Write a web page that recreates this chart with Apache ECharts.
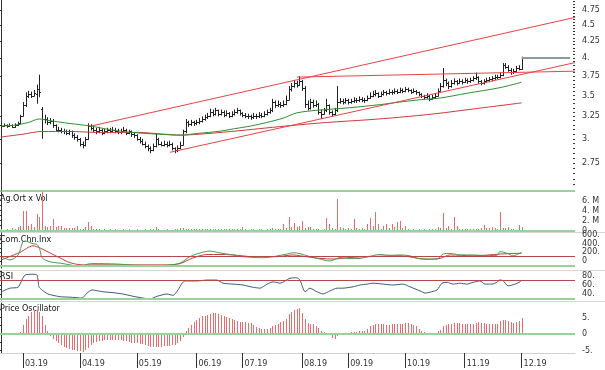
<!DOCTYPE html>
<html><head><meta charset="utf-8">
<script src="https://cdn.jsdelivr.net/npm/echarts@6/dist/echarts.min.js"></script>
<style>html,body{margin:0;padding:0;background:#fff}#c{width:605px;height:370px}</style>
</head><body><div id="c"></div>
<script>
// ---------- DATA ----------
const monthLabels = ['03.19','04.19','05.19','06.19','07.19','08.19','09.19','10.19','11.19','12.19'];
const monthStartIdx = [8,29,50,72,89,111,128,149,171,192];

const openP = [
3.15,3.14,3.15,3.14,3.15,3.13,3.15,3.17,3.26,3.38,
3.50,3.52,3.50,3.52,3.58,3.34,3.22,3.22,3.18,3.20,
3.15,3.10,3.10,3.08,3.08,3.06,3.08,3.04,3.02,3.00,
2.95,2.93,3.00,3.14,3.12,3.10,3.08,3.10,3.06,3.08,
3.10,3.08,3.10,3.09,3.07,3.08,3.10,3.06,3.08,3.05,
3.04,3.00,2.98,2.95,2.92,2.90,2.88,2.92,3.00,2.95,
2.94,2.95,2.94,2.95,2.90,2.88,2.90,2.94,3.08,3.18,
3.16,3.18,3.17,3.18,3.20,3.22,3.24,3.26,3.30,3.28,
3.32,3.28,3.30,3.27,3.29,3.26,3.28,3.30,3.32,3.29,
3.27,3.26,3.25,3.24,3.26,3.25,3.27,3.26,3.28,3.30,
3.32,3.42,3.38,3.40,3.38,3.40,3.45,3.58,3.62,3.66,
3.64,3.68,3.60,3.40,3.35,3.42,3.38,3.40,3.30,3.28,
3.32,3.38,3.30,3.28,3.32,3.42,3.43,3.42,3.44,3.42,
3.43,3.45,3.44,3.46,3.45,3.44,3.47,3.50,3.52,3.53,
3.50,3.52,3.54,3.53,3.55,3.54,3.56,3.55,3.57,3.56,
3.58,3.57,3.55,3.56,3.54,3.52,3.50,3.48,3.50,3.46,
3.48,3.50,3.56,3.62,3.70,3.66,3.62,3.66,3.68,3.66,
3.69,3.67,3.70,3.68,3.70,3.72,3.74,3.68,3.66,3.68,
3.70,3.71,3.72,3.74,3.74,3.76,3.90,3.88,3.84,3.80,
3.82,3.86,3.85];
const highP = [
3.17,3.17,3.16,3.17,3.16,3.17,3.19,3.27,3.42,3.54,
3.56,3.55,3.57,3.64,3.77,3.36,3.27,3.24,3.23,3.22,
3.16,3.13,3.12,3.11,3.10,3.10,3.09,3.06,3.04,3.01,
2.97,3.02,3.17,3.16,3.14,3.12,3.13,3.11,3.11,3.12,
3.12,3.13,3.12,3.11,3.11,3.13,3.11,3.10,3.09,3.07,
3.05,3.02,3.00,2.97,2.94,2.92,2.95,3.06,3.01,2.97,
2.98,2.97,2.98,2.96,2.91,2.93,2.97,3.10,3.22,3.20,
3.21,3.20,3.21,3.23,3.25,3.27,3.29,3.34,3.33,3.35,
3.33,3.33,3.32,3.32,3.30,3.31,3.33,3.35,3.33,3.30,
3.29,3.28,3.27,3.29,3.28,3.30,3.29,3.31,3.33,3.35,
3.46,3.44,3.44,3.42,3.44,3.50,3.62,3.66,3.70,3.69,
3.75,3.70,3.62,3.44,3.46,3.45,3.44,3.41,3.33,3.35,
3.46,3.39,3.32,3.35,3.62,3.47,3.46,3.47,3.46,3.46,
3.48,3.47,3.49,3.48,3.47,3.50,3.54,3.56,3.57,3.54,
3.55,3.57,3.56,3.58,3.57,3.59,3.58,3.60,3.59,3.61,
3.60,3.58,3.59,3.57,3.55,3.53,3.51,3.53,3.51,3.51,
3.53,3.59,3.66,3.86,3.72,3.68,3.70,3.72,3.70,3.72,
3.71,3.73,3.72,3.73,3.75,3.80,3.75,3.70,3.71,3.73,
3.74,3.75,3.77,3.77,3.80,3.93,3.93,3.90,3.86,3.85,
3.89,3.90,4.02];
const lowP = [
3.12,3.13,3.12,3.13,3.12,3.12,3.14,3.16,3.25,3.36,
3.47,3.47,3.49,3.40,3.48,3.00,3.17,3.15,3.16,3.12,
3.08,3.07,3.06,3.05,3.04,3.04,3.01,2.99,2.97,2.92,
2.90,2.92,2.99,3.09,3.07,3.05,3.06,3.04,3.05,3.06,
3.06,3.07,3.06,3.05,3.05,3.07,3.04,3.05,3.02,3.01,
2.98,2.95,2.93,2.90,2.87,2.85,2.87,2.91,2.93,2.92,
2.92,2.91,2.92,2.88,2.85,2.86,2.89,2.93,3.06,3.13,
3.14,3.14,3.15,3.16,3.18,3.20,3.22,3.24,3.25,3.26,
3.25,3.26,3.24,3.25,3.23,3.24,3.26,3.28,3.26,3.24,
3.23,3.22,3.21,3.22,3.22,3.23,3.23,3.24,3.26,3.28,
3.30,3.35,3.36,3.35,3.36,3.38,3.44,3.55,3.60,3.60,
3.62,3.56,3.35,3.32,3.33,3.35,3.36,3.27,3.22,3.27,
3.30,3.27,3.25,3.26,3.30,3.40,3.39,3.40,3.39,3.40,
3.41,3.41,3.42,3.42,3.41,3.43,3.46,3.48,3.49,3.47,
3.48,3.50,3.50,3.51,3.51,3.52,3.52,3.53,3.53,3.54,
3.54,3.52,3.53,3.51,3.49,3.47,3.45,3.46,3.43,3.45,
3.46,3.49,3.55,3.60,3.62,3.58,3.60,3.64,3.63,3.65,
3.64,3.66,3.65,3.66,3.68,3.70,3.65,3.63,3.64,3.66,
3.67,3.68,3.70,3.71,3.72,3.75,3.85,3.81,3.77,3.78,
3.81,3.83,3.84];
const closeP = [
3.14,3.15,3.14,3.15,3.13,3.15,3.16,3.25,3.38,3.50,
3.52,3.50,3.53,3.58,3.55,3.22,3.22,3.18,3.20,3.15,
3.10,3.10,3.08,3.08,3.06,3.08,3.04,3.02,3.00,2.95,
2.93,3.00,3.14,3.12,3.10,3.08,3.10,3.06,3.08,3.10,
3.08,3.10,3.09,3.07,3.08,3.10,3.06,3.08,3.05,3.04,
3.00,2.98,2.95,2.92,2.90,2.88,2.92,3.00,2.95,2.94,
2.95,2.94,2.95,2.90,2.88,2.90,2.94,3.08,3.18,3.16,
3.18,3.17,3.18,3.20,3.22,3.24,3.26,3.30,3.28,3.32,
3.28,3.30,3.27,3.29,3.26,3.28,3.30,3.32,3.29,3.27,
3.26,3.25,3.24,3.26,3.25,3.27,3.26,3.28,3.30,3.32,
3.42,3.38,3.40,3.38,3.40,3.45,3.58,3.62,3.66,3.64,
3.68,3.60,3.40,3.35,3.42,3.38,3.40,3.30,3.28,3.32,
3.38,3.30,3.28,3.32,3.42,3.43,3.42,3.44,3.42,3.43,
3.45,3.44,3.46,3.45,3.44,3.47,3.50,3.52,3.53,3.50,
3.52,3.54,3.53,3.55,3.54,3.56,3.55,3.57,3.56,3.58,
3.57,3.55,3.56,3.54,3.52,3.50,3.48,3.50,3.46,3.48,
3.50,3.56,3.62,3.70,3.66,3.62,3.66,3.68,3.66,3.69,
3.67,3.70,3.68,3.70,3.72,3.74,3.68,3.66,3.68,3.70,
3.71,3.72,3.74,3.74,3.76,3.90,3.88,3.84,3.80,3.82,
3.86,3.85,4.00];

// moving averages: [bar index, price]
const maShort = [[0,3.14],[5,3.15],[10,3.18],[14,3.22],[18,3.20],[25,3.17],[33,3.14],[40,3.10],[48,3.07],[58,3.05],[66,3.04],[73,3.06],[80,3.08],[86,3.11],[92,3.14],[98,3.18],[104,3.23],[109,3.29],[116,3.32],[128,3.35],[140,3.39],[147,3.42],[155,3.45],[162,3.47],[172,3.53],[184,3.60],[192,3.67]];
const maLong = [[0,3.02],[8,3.05],[15,3.08],[25,3.08],[35,3.07],[50,3.07],[60,3.05],[66,3.04],[73,3.05],[85,3.08],[95,3.11],[105,3.14],[120,3.18],[135,3.21],[147,3.24],[160,3.28],[175,3.34],[192,3.41]];

// trend lines: [bar index, price]
const upperChannel = [[32.7,3.137],[211.7,4.624]];
const lowerChannel = [[62.2,2.859],[211.7,3.936]];
const topLine = [[109.1,3.738],[211.7,3.818]];
const lastPrice = [[192,4.0],[209.9,4.0]];

const volumeM = [
0.3,0.1,0.4,0.2,0.6,0.3,0.8,1.0,4.0,4.0,
1.0,1.3,0.8,3.3,2.7,7.7,1.0,0.7,1.0,2.3,
0.8,1.0,1.0,0.6,0.5,0.6,0.6,0.5,1.0,0.4,
0.3,0.8,1.7,0.9,0.4,0.3,0.3,0.2,0.3,0.2,
0.3,0.2,0.3,0.2,0.2,0.3,0.2,0.3,0.2,0.2,
0.3,0.2,0.2,0.3,0.2,0.3,0.4,0.8,0.3,0.2,
0.2,0.3,0.2,0.2,0.3,0.3,0.5,0.5,0.4,0.3,
0.3,0.4,0.3,0.3,0.4,0.3,0.3,0.4,0.3,0.3,
0.3,0.4,0.3,0.3,0.3,0.4,0.3,0.3,0.3,0.7,
0.3,0.2,0.3,0.3,0.2,0.3,0.3,0.2,0.3,0.3,
0.6,0.3,0.3,0.3,1.3,0.5,2.7,0.8,1.6,0.8,
1.0,2.0,0.5,0.8,0.7,0.3,0.3,0.3,0.2,0.3,
2.5,1.3,0.6,0.3,6.3,0.7,0.5,0.4,0.6,0.3,
2.3,0.5,0.4,0.6,0.4,1.3,2.5,1.0,3.8,1.3,
0.4,1.0,1.3,0.5,1.3,0.8,1.8,2.0,0.6,1.0,
0.3,0.2,0.3,0.2,0.3,0.2,0.3,0.2,0.3,0.3,
0.4,0.8,0.6,3.5,0.6,1.0,0.4,2.8,1.0,0.3,
0.3,0.3,0.3,0.3,0.3,0.3,0.4,0.5,1.1,0.6,
0.5,0.7,0.6,0.4,3.8,0.6,0.6,0.7,0.4,0.3,
0.2,1.2,0.8];

const cciLine = [[0,100],[3.2,25],[6.2,140],[7.9,440],[8.7,460],[11.7,400],[13.2,380],[14.3,250],[15,80],[18,-20],[21.7,-50],[25.4,-90],[29,-130],[32,-70],[33.8,-60],[42.7,-70],[54.9,-115],[61.1,-100],[64.8,-70],[66.7,-25],[69.6,100],[73.3,185],[77,230],[80.7,185],[85.5,140],[89.2,100],[96.6,75],[100.3,100],[105.4,160],[107.6,190],[110.2,170],[113.9,100],[117.6,45],[121.3,0],[125,80],[128.7,55],[132.4,60],[136.1,110],[139.7,150],[143.4,130],[147.1,140],[150.8,120],[153.4,60],[157.1,45],[160.8,45],[163,160],[165.6,175],[169.3,140],[174.1,140],[179.2,125],[182.9,130],[184,215],[186.6,180],[188.8,120],[191.4,180],[192,210]];
const cciAvg = [[0,25],[6.9,200],[11.7,350],[14.3,300],[18,185],[21.7,70],[25.4,-40],[30.2,-90],[36.4,-90],[48.6,-90],[61.1,-90],[65.9,-60],[70.7,70],[75.9,150],[80.7,150],[85.5,140],[92.9,100],[101.7,100],[107.6,140],[110.2,120],[117.6,60],[122.4,45],[128.7,80],[135,100],[147.1,120],[157.1,40],[161.9,60],[165.6,140],[174.1,120],[184,160],[192,180]];

const rsiLine = [[0,45],[3.2,53],[6.2,55],[7.6,71],[8.7,82],[11.7,84],[13.2,82],[13.9,56],[15,49],[17.2,40],[21.7,34],[25.4,33],[29.8,31],[31.6,42],[33.5,49],[37.5,45],[41.2,43],[44.9,40],[48.6,35],[52.3,31],[54.9,29],[57.5,35],[61.1,40],[63.4,37],[65.2,49],[66.7,64],[67.8,69],[72.2,69],[75.9,71],[79.6,71],[81.8,64],[85.5,62],[89.2,60],[92.9,55],[95.5,53],[98.1,62],[100.3,67],[102.9,64],[106.5,75],[109.1,76],[110.2,71],[112.1,45],[113.9,53],[116.5,45],[118.7,40],[121.3,47],[123.9,53],[126.1,53],[129.8,56],[132.4,60],[135,62],[137.2,64],[140.9,62],[144.5,60],[148.2,62],[150.8,56],[154.5,47],[156.4,42],[158.2,44],[160.8,49],[162.6,64],[164.5,66],[166.7,62],[169.3,64],[171.8,62],[174.1,66],[176.6,69],[178.5,62],[181.1,62],[182.9,66],[183.7,71],[185.1,70],[187,58],[189.6,62],[191.4,67],[192,71]];

const oscValues = [
0,0,0,0,0,0,0.1,0.5,2.8,4.5,
5.5,6.8,7.4,7.4,6.8,5.3,2.8,0.8,-0.7,-1.5,
-2.2,-2.7,-3.3,-3.8,-4.1,-4.5,-4.8,-5.0,-5.1,-5.3,
-5.5,-5.0,-4.2,-3.3,-2.8,-2.4,-2.1,-2.0,-1.9,-1.8,
-1.7,-1.7,-1.8,-1.9,-1.9,-2.0,-2.2,-2.4,-2.6,-2.8,
-2.8,-2.9,-3.1,-3.4,-3.6,-3.8,-4.0,-4.0,-3.9,-3.8,
-3.7,-3.6,-3.5,-3.4,-3.3,-2.8,-2.2,-0.8,0.8,1.8,
2.8,3.6,4.3,4.8,5.3,5.6,5.9,6.1,6.3,6.4,
6.2,5.8,5.5,5.2,4.9,4.6,4.3,4.0,3.6,3.5,
3.5,3.4,3.3,2.8,2.2,1.8,1.5,1.5,1.6,1.8,
2.5,2.8,3.1,3.5,3.8,4.5,6.0,6.8,7.4,7.6,
7.9,6.5,4.5,3.3,3.1,3.0,2.5,1.8,0.8,0.5,
0.3,-0.3,-1.2,-1.6,-0.7,0.2,0.3,0.3,0.4,0.5,
0.6,0.7,0.8,0.8,1.0,1.6,2.4,2.8,2.9,3.0,
3.0,2.9,2.8,2.8,2.9,2.9,3.0,3.0,3.1,3.2,
3.3,3.1,2.8,2.3,1.6,0.8,0.5,0.3,0.3,0.3,
0.4,0.8,1.3,2.3,2.8,3.0,3.1,3.2,3.3,3.2,
3.1,3.0,3.0,3.1,3.0,3.2,3.6,3.4,3.2,3.0,
3.0,3.0,3.0,3.1,3.8,4.2,4.3,4.0,3.7,3.4,
3.5,4.0,4.8];

const priceTicks = [2.75,3,3.25,3.5,3.75,4,4.25,4.5,4.75];
const priceMinorTicks = [];
for (let k = 51; k <= 98; k++) priceMinorTicks.push(k / 20);
const volTicks = [0,2,4,6];
const cciTicks = [0,200,400,600];
const rsiTicks = [40,60,80];
const oscTicks = [-5,0,5];

// ---------- CHART ----------
const FONT = 'DejaVu Sans';
const XMIN = -0.48, XMAX = 211.7;
const GREEN_REF = '#9ad39a';
const RED_REF = '#b84848';
const STICK = '#e96b6b';

function dotFmt(v) {
  const r = Math.round(v * 100) / 100;
  return Number.isInteger(r) ? (r === 0 ? '0' : r + '.') : String(r);
}

function yAx(grid, opts) {
  return Object.assign({
    gridIndex: grid, type: 'value', position: 'right',
    axisLine: {show: true, lineStyle: {color: '#333', width: 1}},
    axisTick: {show: true, inside: true, length: 4, lineStyle: {color: '#333'}},
    axisLabel: {show: true, margin: 7, color: '#333', fontFamily: FONT, fontSize: 8},
    splitLine: {show: false}
  }, opts);
}
function xAx(grid, show) {
  return {
    gridIndex: grid, type: 'value', min: XMIN, max: XMAX,
    axisLine: {show: show, onZero: false, lineStyle: {color: '#cfcfcf'}},
    axisTick: {show: show, customValues: monthStartIdx, length: 15, lineStyle: {color: '#333'}},
    axisLabel: {show: show, customValues: monthStartIdx, align: 'left', margin: 7, padding: [0,0,0,2],
      color: '#333', fontFamily: FONT, fontSize: 8,
      formatter: v => monthLabels[monthStartIdx.indexOf(Math.round(v))] || ''},
    splitLine: {show: false}
  };
}

function renderOHLC(params, api) {
  const i = api.value(0);
  const pO = api.coord([i, api.value(1)]);
  const pC = api.coord([i, api.value(2)]);
  const pL = api.coord([i, api.value(3)]);
  const pH = api.coord([i, api.value(4)]);
  const x = Math.round(pH[0]) + 0.5;
  const st = {stroke: '#222', lineWidth: 1};
  const yo = Math.round(pO[1]) + 0.5, yc = Math.round(pC[1]) + 0.5;
  return {type: 'group', children: [
    {type: 'line', shape: {x1: x, y1: pH[1], x2: x, y2: pL[1]}, style: st},
    {type: 'line', shape: {x1: x - 1.5, y1: yo, x2: x, y2: yo}, style: st},
    {type: 'line', shape: {x1: x, y1: yc, x2: x + 1.5, y2: yc}, style: st}
  ]};
}
// crisp 1px stick from 0 to value
function renderStick(params, api) {
  const i = api.value(0), v = api.value(1);
  const p0 = api.coord([i, 0]), p1 = api.coord([i, v]);
  const x = Math.round(p0[0]);
  const y0 = Math.round(p0[1]), y1 = Math.round(p1[1]);
  return {type: 'rect', shape: {x: x, y: Math.min(y0, y1), width: 1, height: Math.abs(y1 - y0)},
    style: {fill: STICK}};
}

const ohlcData = closeP.map((c, i) => [i, openP[i], c, lowP[i], highP[i]]);
const volData = volumeM.map((v, i) => [i, v]);
const oscData = oscValues.map((v, i) => [i, v]);

function refLine(val, color, width) {
  return {yAxis: val, lineStyle: {color: color, width: width, type: 'solid'}};
}
function lineSeries(data, color, xi, yi, extra) {
  return Object.assign({type: 'line', data: data, xAxisIndex: xi, yAxisIndex: yi,
    symbol: 'none', silent: true, animation: false,
    lineStyle: {color: color, width: 1}}, extra || {});
}

const chart = echarts.init(document.getElementById('c'), null, {renderer: 'canvas'});
chart.setOption({
  animation: false,
  backgroundColor: '#fff',
  grid: [
    {left: 0, top: 0, width: 575, height: 190},
    {left: 0, top: 192, width: 575, height: 38.5},
    {left: 0, top: 233, width: 575, height: 35},
    {left: 0, top: 271, width: 575, height: 29},
    {left: 0, top: 303, width: 575, height: 50}
  ],
  xAxis: [xAx(0,false), xAx(1,false), xAx(2,false), xAx(3,false), xAx(4,true)],
  yAxis: [
    yAx(0, {type: 'log', logBase: 10, min: 2.5, max: 4.92,
      axisTick: {show: true, inside: true, length: 5, customValues: priceTicks, lineStyle: {color: '#333'}},
      axisLabel: {show: true, margin: 7, color: '#333', fontFamily: FONT, fontSize: 8, customValues: priceTicks, formatter: dotFmt}}),
    yAx(0, {type: 'log', logBase: 10, min: 2.5, max: 4.92,
      axisLine: {show: false},
      axisTick: {show: true, inside: true, length: 2, customValues: priceMinorTicks, lineStyle: {color: '#333'}},
      axisLabel: {show: false}}),
    yAx(1, {min: 0, max: 7.7,
      axisTick: {show: true, inside: true, length: 4, customValues: [0,1,2,3,4,5,6,7], lineStyle: {color: '#333'}},
      axisLabel: {show: true, margin: 7, color: '#333', fontFamily: FONT, fontSize: 8, customValues: volTicks,
        formatter: v => v === 0 ? '0' : v + '. M'}}),
    yAx(2, {min: -162, max: 647,
      axisTick: {show: true, inside: true, length: 4, customValues: [-100,0,100,200,300,400,500,600], lineStyle: {color: '#333'}},
      axisLabel: {show: true, margin: 7, color: '#333', fontFamily: FONT, fontSize: 8, customValues: cciTicks, formatter: dotFmt}}),
    yAx(3, {min: 26.7, max: 91.1,
      axisTick: {show: true, inside: true, length: 4, customValues: [30,40,50,60,70,80,90], lineStyle: {color: '#333'}},
      axisLabel: {show: true, margin: 7, color: '#333', fontFamily: FONT, fontSize: 8, customValues: rsiTicks, formatter: dotFmt}}),
    yAx(4, {min: -5.76, max: 9.39,
      axisTick: {show: true, inside: true, length: 4, customValues: [-5,-2.5,0,2.5,5,7.5], lineStyle: {color: '#333'}},
      axisLabel: {show: true, margin: 7, color: '#333', fontFamily: FONT, fontSize: 8, customValues: oscTicks, formatter: dotFmt}})
  ],
  graphic: [
    {type: 'line', silent: true, shape: {x1: 0, y1: 232.5, x2: 605, y2: 232.5}, style: {stroke: '#d6d6d6', lineWidth: 1}},
    {type: 'line', silent: true, shape: {x1: 0, y1: 270.5, x2: 605, y2: 270.5}, style: {stroke: '#d6d6d6', lineWidth: 1}},
    {type: 'line', silent: true, shape: {x1: 0, y1: 301.5, x2: 605, y2: 301.5}, style: {stroke: '#d6d6d6', lineWidth: 1}},
    {type: 'line', silent: true, shape: {x1: 0, y1: 191, x2: 575, y2: 191}, style: {stroke: GREEN_REF, lineWidth: 2}},
    {type: 'text', silent: true, left: 0, top: 195, style: {text: 'Ag.Ort x Vol', font: '8px "DejaVu Sans"', fill: '#111'}},
    {type: 'text', silent: true, left: 0, top: 236, style: {text: 'Com.Chn.Inx', font: '8px "DejaVu Sans"', fill: '#111'}},
    {type: 'text', silent: true, left: 0, top: 273, style: {text: 'RSI', font: '8px "DejaVu Sans"', fill: '#111'}},
    {type: 'text', silent: true, left: 0, top: 305, style: {text: 'Price Oscillator', font: '8px "DejaVu Sans"', fill: '#111'}}
  ],
  series: [
    lineSeries(maLong, '#cc3a3a', 0, 0, {smooth: 0.3}),
    lineSeries(maShort, '#2f8f2f', 0, 0, {smooth: 0.3}),
    lineSeries(upperChannel, '#e84444', 0, 0),
    lineSeries(lowerChannel, '#e84444', 0, 0),
    lineSeries(topLine, '#e84444', 0, 0),
    lineSeries(lastPrice, '#8a98a8', 0, 0, {lineStyle: {color: '#8a98a8', width: 2}}),
    {type: 'custom', xAxisIndex: 0, yAxisIndex: 0, data: ohlcData, renderItem: renderOHLC,
      encode: {x: 0, y: [1,2,3,4]}, silent: true, clip: true},
    {type: 'custom', xAxisIndex: 1, yAxisIndex: 2, data: volData, renderItem: renderStick,
      encode: {x: 0, y: 1}, silent: true, clip: true,
      markLine: {silent: true, symbol: 'none', label: {show: false}, data: [refLine(0, GREEN_REF, 2)]}},
    lineSeries(cciAvg, '#c83c3c', 2, 3, {smooth: 0.3}),
    lineSeries(cciLine, '#4f9a4f', 2, 3, {smooth: 0.3,
      markLine: {silent: true, symbol: 'none', label: {show: false}, data: [refLine(100, RED_REF, 1), refLine(-100, GREEN_REF, 2)]}}),
    lineSeries(rsiLine, '#3e5a7e', 3, 4, {smooth: 0.2,
      markLine: {silent: true, symbol: 'none', label: {show: false}, data: [refLine(70, RED_REF, 1), refLine(30, GREEN_REF, 2)]}}),
    {type: 'custom', xAxisIndex: 4, yAxisIndex: 5, data: oscData, renderItem: renderStick,
      encode: {x: 0, y: 1}, silent: true, clip: true,
      markLine: {silent: true, symbol: 'none', label: {show: false}, data: [refLine(0, GREEN_REF, 2)]}}
  ]
});
</script>
</body></html>
